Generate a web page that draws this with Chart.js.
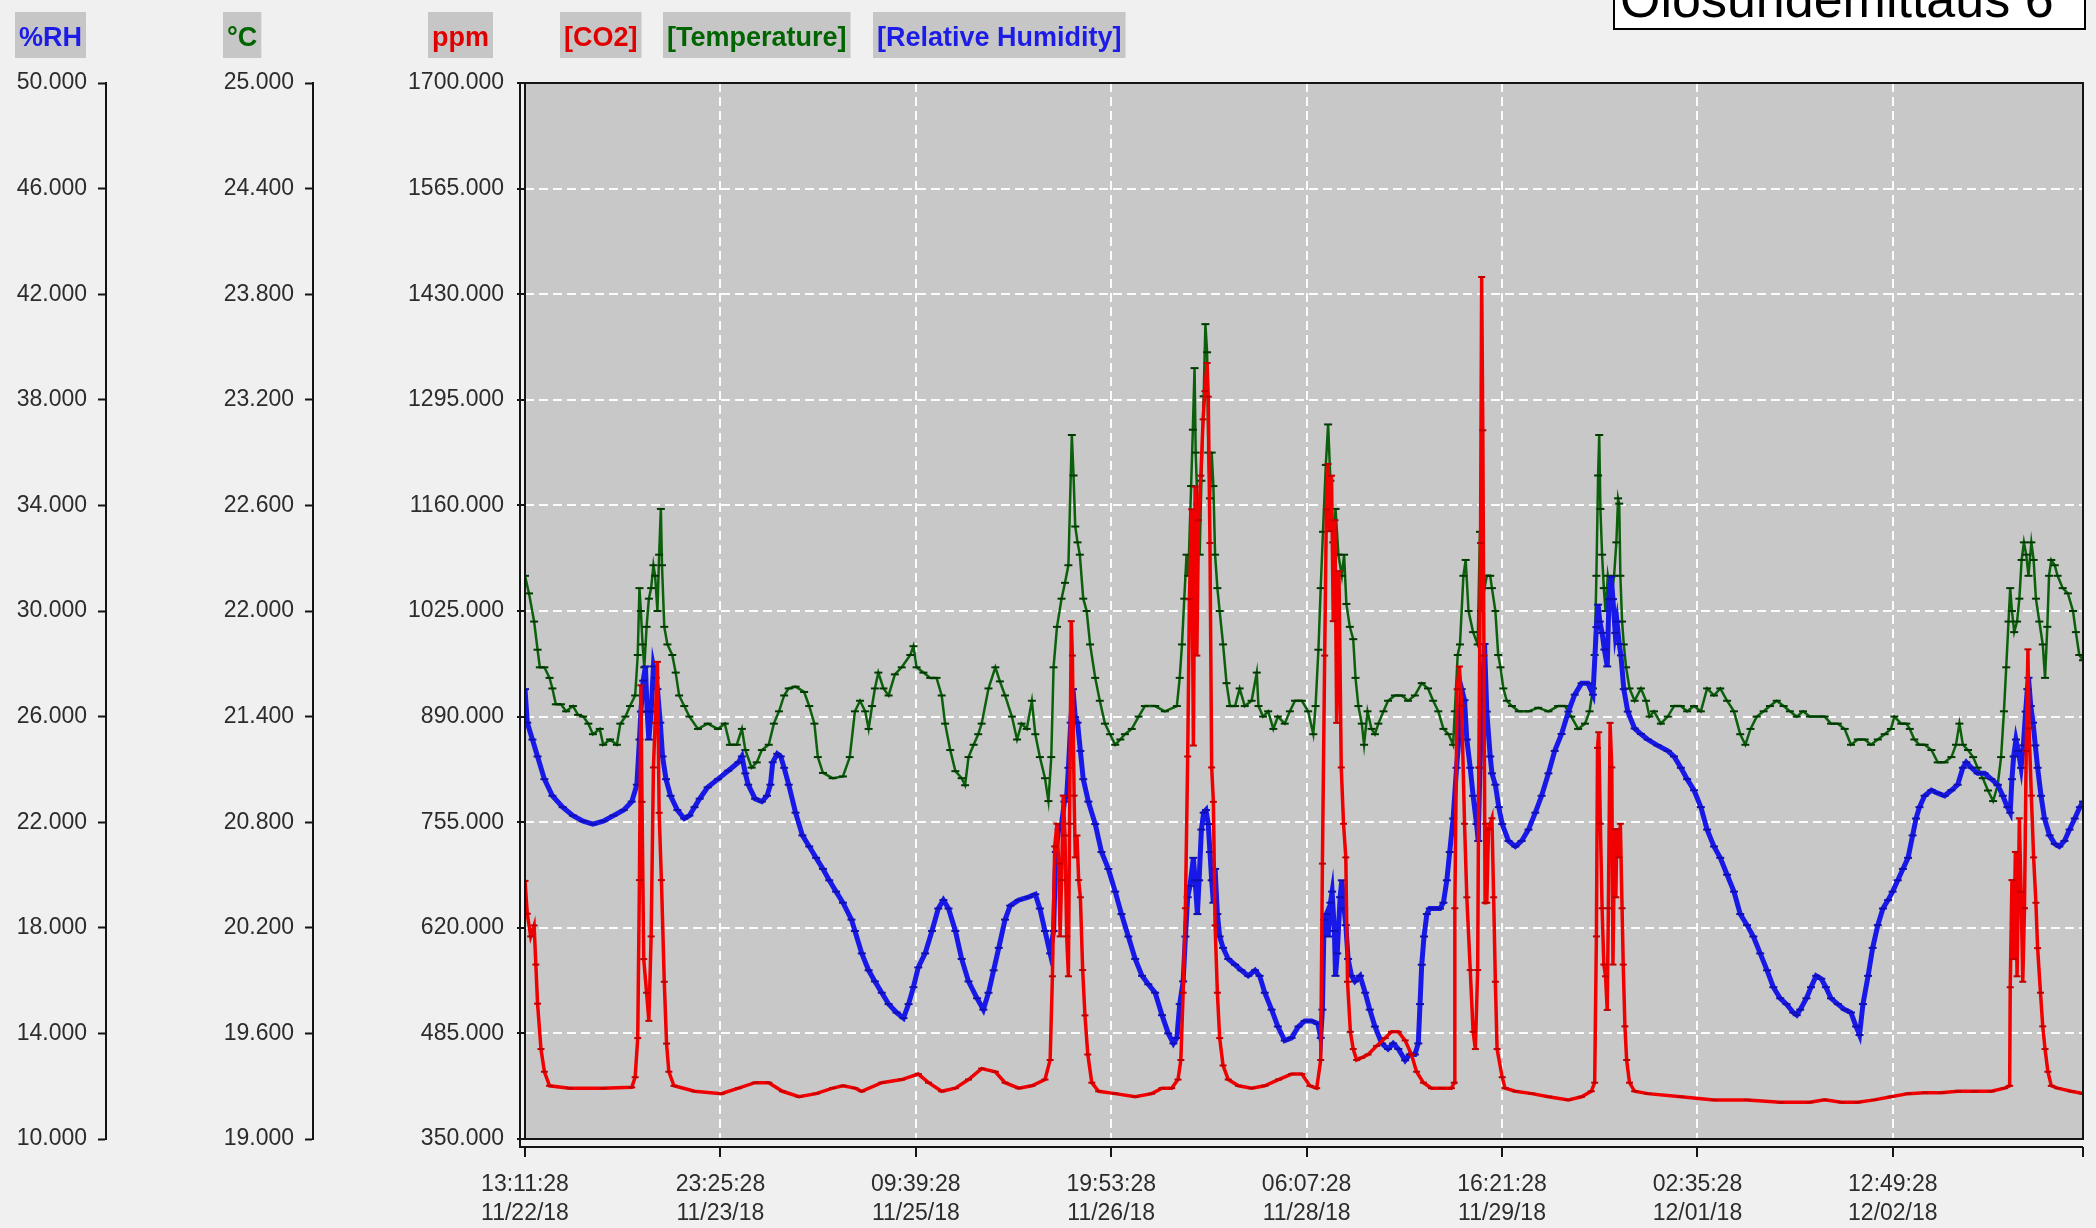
<!DOCTYPE html>
<html>
<head>
<meta charset="utf-8">
<title>Olosuhdemittaus 6</title>
<script src="https://cdn.jsdelivr.net/npm/chart.js@4.4.1/dist/chart.umd.min.js"></script>
<style>
    html, body { margin: 0; padding: 0; background: #f0f0f0; }
    #wrap { width: 2096px; height: 1228px; }
</style>
</head>
<body>
<div id="wrap"><canvas id="myChart" width="2096" height="1228"></canvas></div>
<script>
// x axis: hours since 11/22/18 13:11:28, one labelled tick every 34 h 14 min
const xTickTimes = ['13:11:28', '23:25:28', '09:39:28', '19:53:28', '06:07:28', '16:21:28', '02:35:28', '12:49:28'];
const xTickDates = ['11/22/18', '11/23/18', '11/25/18', '11/26/18', '11/28/18', '11/29/18', '12/01/18', '12/02/18'];
const tickStepHours = 34 + 14 / 60;
const spanHours = 272.95;

const rhTicks = [10, 14, 18, 22, 26, 30, 34, 38, 42, 46, 50];
const tempTicks = [19, 19.6, 20.2, 20.8, 21.4, 22, 22.6, 23.2, 23.8, 24.4, 25];
const ppmTicks = [350, 485, 620, 755, 890, 1025, 1160, 1295, 1430, 1565, 1700];

// [hours, ppm]
const co2Points = [
    [0.0, 680], [0.4, 638], [1.0, 609], [1.6, 623], [1.9, 573], [2.2, 523], [2.8, 465], [3.4, 436], [4.3, 418],
    [7.8, 415], [13.7, 415], [18.7, 416], [19.3, 429], [19.75, 479], [20.05, 681], [20.3, 930], [20.5, 781],
    [20.8, 580], [21.3, 537], [21.7, 501], [22.1, 609], [22.5, 825], [22.8, 882], [23.2, 960], [23.5, 767],
    [23.9, 681], [24.4, 551], [24.8, 472], [25.2, 436], [26.1, 418], [29.7, 411], [34.4, 408], [37.4, 415],
    [40.3, 422], [42.7, 422], [45.1, 411], [48.0, 404], [51.0, 408], [53.9, 415], [55.7, 418],
    [57.8, 415], [59.0, 411], [62.5, 422], [66.0, 426], [68.9, 433], [70.7, 422], [73.0, 411], [75.4, 415],
    [77.7, 426], [80.0, 440], [82.4, 436], [84.1, 422], [86.5, 415], [88.8, 418], [91.1, 426], [92.0, 451],
    [92.4, 558], [92.8, 724], [93.2, 753], [93.5, 702], [93.75, 609], [94.0, 681], [94.3, 789], [94.6, 738],
    [94.9, 609], [95.2, 558], [95.4, 753], [95.7, 1012], [95.9, 968], [96.2, 789], [96.4, 710], [96.7, 738],
    [97.0, 681], [97.3, 659], [97.7, 566], [98.1, 508], [98.6, 458], [99.3, 422], [100.5, 411], [103.4, 408],
    [106.9, 404], [109.8, 408], [111.6, 415],
    [113.3, 415], [114.4, 426], [114.9, 451], [115.3, 537], [115.7, 645], [116.1, 839], [116.4, 1040],
    [116.8, 1155], [117.1, 853], [117.4, 1184], [117.7, 968], [118.0, 1141], [118.4, 1198], [118.8, 1270],
    [119.1, 1306], [119.5, 1342], [119.7, 1299], [120.0, 1112], [120.3, 825], [120.6, 781], [120.9, 623],
    [121.3, 537], [121.7, 479], [122.3, 444], [123.2, 426], [125.0, 418], [127.3, 415], [129.6, 418],
    [132.0, 426], [134.3, 433], [136.1, 433], [137.5, 418], [138.7, 415], [139.4, 451], [139.7, 702],
    [140.1, 968], [140.4, 1155], [140.7, 1213], [141.0, 1127], [141.3, 1198], [141.6, 1012], [141.9, 1141],
    [142.2, 882], [142.6, 1076], [143.0, 825], [143.4, 753], [143.8, 710], [144.1, 551], [144.6, 487],
    [145.1, 465], [145.7, 451], [146.6, 454], [147.7, 458], [149.2, 469], [150.7, 479], [151.8, 487],
    [153.0, 487], [154.2, 476], [155.3, 458], [156.2, 436], [157.4, 422], [158.8, 415], [160.6, 415],
    [162.3, 415], [162.8, 422], [162.9, 645], [163.3, 925], [163.7, 954], [164.1, 904], [164.6, 753],
    [165.0, 659], [165.6, 566], [166.1, 487], [166.5, 465], [166.9, 566], [167.1, 825], [167.4, 1112],
    [167.6, 1452], [167.8, 1256], [168.0, 968], [168.2, 652], [168.3, 753], [168.5, 652], [168.8, 746],
    [169.4, 760], [169.7, 659], [170.0, 551], [170.3, 465], [171.2, 429], [171.7, 415], [173.5, 411],
    [176.4, 408], [179.3, 404], [182.8, 400], [185.1, 404], [186.8, 411], [187.4, 422], [187.7, 609],
    [187.9, 850], [188.1, 870], [188.4, 753], [188.7, 645], [189.0, 573], [189.3, 558], [189.6, 515],
    [189.8, 645], [190.1, 882], [190.4, 825], [190.6, 573], [190.9, 746], [191.1, 659], [191.3, 746],
    [191.6, 710], [191.9, 753], [192.2, 645], [192.4, 573], [192.7, 494], [193.0, 451], [193.5, 422],
    [194.4, 411], [196.7, 408], [202.5, 404], [208.3, 400], [214.1, 400], [219.9, 397], [225.1, 397],
    [227.7, 400], [230.6, 397], [233.5, 397], [236.4, 400], [239.3, 404], [242.3, 408], [245.2, 409],
    [248.1, 409], [251.0, 411], [253.9, 411], [256.9, 411], [259.2, 415], [260.1, 418], [260.2, 544],
    [260.5, 681], [260.8, 580], [261.1, 717], [261.4, 558], [261.8, 760], [262.1, 666], [262.4, 551],
    [262.7, 645], [263.0, 846], [263.3, 976], [263.5, 875], [263.9, 789], [264.3, 710], [264.7, 652],
    [265.0, 594], [265.5, 537], [265.9, 494], [266.3, 465], [266.8, 436], [267.4, 418], [268.5, 415],
    [270.9, 411], [272.95, 408]
];

// [hours, degrees C]
const tempPoints = [
    [0.0, 22.20], [0.7, 22.10], [1.6, 21.94], [2.2, 21.78], [2.6, 21.68], [3.4, 21.68], [4.3, 21.62],
    [4.8, 21.56], [5.4, 21.47], [6.3, 21.47], [7.2, 21.43], [8.4, 21.46], [9.3, 21.41], [10.2, 21.40],
    [11.1, 21.36], [11.9, 21.30], [13.1, 21.33], [13.7, 21.24], [14.9, 21.27], [16.1, 21.24], [16.7, 21.36],
    [17.6, 21.40], [18.4, 21.46], [19.3, 21.52], [19.75, 21.75], [20.05, 22.13], [20.3, 22.00], [20.6, 21.81],
    [20.9, 21.68], [21.3, 21.91], [21.7, 22.07], [22.1, 22.13], [22.5, 22.26], [22.8, 22.20], [23.2, 22.00],
    [23.5, 22.32], [23.8, 22.58], [24.0, 22.26], [24.4, 21.91], [24.95, 21.81], [25.8, 21.75], [26.4, 21.65],
    [27.0, 21.52], [27.9, 21.46], [28.8, 21.40], [30.3, 21.33], [32.0, 21.36], [33.8, 21.33], [35.0, 21.36],
    [35.9, 21.24], [37.1, 21.24], [38.0, 21.33], [38.6, 21.21], [39.7, 21.11], [40.6, 21.14], [41.5, 21.21],
    [42.7, 21.24], [43.6, 21.36], [44.5, 21.43], [45.4, 21.52], [46.2, 21.56], [47.4, 21.57], [48.9, 21.54],
    [49.8, 21.46], [50.7, 21.36], [51.3, 21.17], [52.2, 21.08], [53.9, 21.05], [55.7, 21.06], [56.9, 21.17],
    [57.8, 21.43], [58.7, 21.49], [59.6, 21.43], [60.2, 21.33], [60.8, 21.46], [61.3, 21.56], [61.9, 21.65],
    [62.8, 21.56], [63.7, 21.52], [64.8, 21.64], [66.0, 21.68], [67.5, 21.75], [68.05, 21.80], [68.6, 21.68],
    [69.8, 21.65], [71.0, 21.62], [72.1, 21.62], [73.0, 21.52], [73.6, 21.36], [74.5, 21.21], [75.4, 21.09],
    [76.5, 21.05], [77.1, 21.01], [77.7, 21.17], [78.6, 21.24], [79.4, 21.30], [80.0, 21.36], [81.2, 21.56],
    [82.4, 21.68], [83.2, 21.60], [84.1, 21.52], [85.3, 21.40], [86.2, 21.27], [87.0, 21.36], [87.9, 21.33],
    [88.8, 21.49], [89.4, 21.30], [90.2, 21.17], [91.1, 21.05], [91.7, 20.92], [92.2, 21.17], [92.6, 21.68],
    [93.2, 21.91], [94.0, 22.07], [94.6, 22.16], [95.2, 22.26], [95.8, 23.00], [96.1, 22.77], [96.4, 22.48],
    [96.8, 22.39], [97.2, 22.32], [97.8, 22.07], [98.4, 22.00], [99.0, 21.81], [99.9, 21.62], [100.7, 21.49],
    [101.6, 21.36], [102.5, 21.30], [103.4, 21.24], [104.3, 21.27], [105.1, 21.30], [106.3, 21.33],
    [107.5, 21.40], [108.6, 21.46], [110.4, 21.46], [112.1, 21.43], [114.2, 21.46], [114.7, 21.62],
    [115.1, 21.81], [115.5, 22.07], [115.9, 22.32], [116.2, 22.20], [116.7, 22.71], [117.0, 23.03],
    [117.3, 23.38], [117.5, 22.90], [117.8, 22.61], [118.2, 22.32], [118.5, 22.74], [118.9, 23.22],
    [119.2, 23.63], [119.5, 23.47], [119.7, 22.90], [120.0, 22.64], [120.3, 22.90], [120.6, 22.71],
    [120.9, 22.32], [121.3, 22.13], [121.7, 22.00], [122.3, 21.81], [122.9, 21.59], [123.5, 21.46],
    [124.4, 21.46], [125.2, 21.56], [126.1, 21.46], [127.3, 21.49], [128.2, 21.65], [128.5, 21.46],
    [129.3, 21.40], [130.2, 21.43], [131.1, 21.33], [131.9, 21.40], [133.1, 21.36], [134.0, 21.43],
    [134.9, 21.49], [136.1, 21.49], [137.2, 21.43], [138.1, 21.30], [138.5, 21.46], [139.0, 21.78],
    [139.4, 22.13], [139.8, 22.45], [140.3, 22.83], [140.7, 23.06], [141.1, 22.74], [141.6, 22.39],
    [142.0, 22.58], [142.5, 22.32], [143.1, 22.20], [143.5, 22.32], [143.9, 22.04], [144.5, 21.91],
    [145.1, 21.84], [145.5, 21.62], [146.0, 21.46], [146.6, 21.36], [147.0, 21.24], [147.6, 21.43],
    [148.3, 21.33], [148.9, 21.30], [149.5, 21.36], [150.4, 21.43], [151.2, 21.49], [152.4, 21.52],
    [153.6, 21.52], [154.7, 21.49], [155.9, 21.52], [157.1, 21.59], [158.2, 21.56], [159.1, 21.49],
    [160.0, 21.43], [160.9, 21.33], [161.8, 21.30], [162.6, 21.24], [162.9, 21.43], [163.4, 21.75],
    [163.8, 21.81], [164.4, 22.20], [164.8, 22.29], [165.3, 22.00], [166.1, 21.88], [166.9, 21.81],
    [167.3, 22.45], [167.5, 22.00], [168.1, 22.13], [168.5, 22.20], [169.1, 22.20], [169.4, 22.13],
    [170.0, 22.00], [170.5, 21.75], [170.9, 21.68], [171.4, 21.56], [172.0, 21.49], [172.9, 21.46],
    [174.1, 21.43], [175.8, 21.43], [177.5, 21.45], [179.3, 21.43], [181.0, 21.46], [182.2, 21.46],
    [183.3, 21.40], [184.5, 21.33], [185.7, 21.36], [186.5, 21.43], [187.1, 21.56], [187.4, 21.75],
    [187.7, 22.20], [188.0, 22.77], [188.2, 23.00], [188.4, 22.58], [188.7, 22.32], [189.0, 22.13],
    [189.3, 22.00], [189.7, 22.20], [190.3, 22.07], [190.8, 22.20], [191.2, 22.39], [191.5, 22.64],
    [191.7, 22.61], [191.9, 22.20], [192.2, 21.94], [192.5, 21.81], [192.9, 21.68], [193.5, 21.56],
    [194.4, 21.49], [195.5, 21.56], [196.4, 21.49], [197.0, 21.40], [197.8, 21.43], [199.0, 21.36],
    [200.2, 21.40], [201.3, 21.46], [202.5, 21.46], [203.6, 21.43], [204.8, 21.46], [206.0, 21.43],
    [207.1, 21.56], [208.3, 21.52], [209.4, 21.56], [210.6, 21.49], [211.8, 21.43], [212.9, 21.30],
    [213.8, 21.24], [214.7, 21.33], [215.8, 21.40], [217.0, 21.43], [218.1, 21.46], [219.3, 21.49],
    [220.5, 21.46], [221.6, 21.43], [222.8, 21.40], [223.9, 21.43], [225.1, 21.40], [226.5, 21.40],
    [227.7, 21.40], [228.8, 21.36], [230.0, 21.36], [231.2, 21.33], [232.3, 21.24], [233.5, 21.27],
    [234.7, 21.27], [235.8, 21.24], [237.0, 21.27], [238.2, 21.30], [239.3, 21.33], [239.9, 21.40],
    [241.1, 21.36], [242.0, 21.36], [242.6, 21.33], [243.4, 21.27], [244.3, 21.24], [245.2, 21.24],
    [246.4, 21.21], [247.5, 21.14], [248.7, 21.14], [249.9, 21.17], [250.7, 21.24], [251.3, 21.36],
    [251.9, 21.24], [252.8, 21.21], [253.7, 21.17], [254.5, 21.11], [255.4, 21.05], [256.3, 20.98],
    [257.2, 20.92], [258.0, 21.01], [258.6, 21.17], [259.1, 21.43], [259.5, 21.68], [259.9, 21.94],
    [260.2, 22.13], [260.5, 22.00], [260.9, 21.88], [261.4, 21.94], [261.8, 22.07], [262.2, 22.29],
    [262.6, 22.39], [263.0, 22.32], [263.4, 22.20], [263.9, 22.39], [264.3, 22.29], [264.7, 22.07],
    [265.3, 21.94], [265.9, 21.81], [266.3, 21.62], [266.7, 21.91], [267.0, 22.20], [267.4, 22.29],
    [268.0, 22.26], [268.5, 22.20], [269.4, 22.13], [270.3, 22.10], [271.2, 22.00], [271.7, 21.88],
    [272.3, 21.75], [272.95, 21.72]
];

// [hours, %RH]
const rhPoints = [
    [0.0, 27.04], [0.4, 25.77], [1.3, 25.13], [2.2, 24.49], [3.4, 23.63], [4.8, 23.00], [6.6, 22.57],
    [8.4, 22.25], [10.2, 22.04], [11.9, 21.93], [13.7, 22.04], [15.5, 22.25], [17.3, 22.46], [18.7, 22.78],
    [19.6, 23.42], [20.05, 25.13], [20.3, 26.19], [20.7, 27.36], [21.1, 27.90], [21.4, 26.19], [21.7, 25.13],
    [22.1, 26.19], [22.5, 27.90], [22.9, 27.47], [23.2, 27.04], [23.7, 25.77], [24.1, 24.49], [24.7, 23.63],
    [25.5, 23.00], [26.7, 22.46], [27.9, 22.14], [28.8, 22.25], [29.7, 22.57], [30.6, 22.89], [32.0, 23.32],
    [33.8, 23.63], [35.6, 23.95], [37.4, 24.27], [38.0, 24.49], [38.6, 23.85], [39.1, 23.42], [40.3, 22.89],
    [41.5, 22.78], [42.4, 23.00], [43.0, 23.42], [43.4, 24.27], [44.2, 24.59], [44.8, 24.49], [45.4, 24.06],
    [46.2, 23.42], [47.4, 22.36], [48.6, 21.50], [49.8, 21.08], [51.0, 20.65], [52.2, 20.23], [53.3, 19.80],
    [54.5, 19.37], [55.7, 18.95], [57.2, 18.31], [57.8, 17.88], [59.0, 17.03], [60.2, 16.39], [61.3, 15.97],
    [62.5, 15.54], [63.7, 15.11], [65.1, 14.79], [66.3, 14.58], [67.2, 15.11], [68.05, 15.75], [68.9, 16.50],
    [70.1, 17.03], [71.3, 17.88], [72.4, 18.73], [73.3, 19.05], [74.2, 18.73], [75.4, 17.88], [76.5, 16.82],
    [77.7, 15.97], [79.2, 15.33], [80.3, 14.90], [81.2, 15.54], [82.1, 16.39], [83.0, 17.24], [84.1, 18.31],
    [85.0, 18.84], [86.5, 19.05], [88.2, 19.16], [89.4, 19.27], [90.2, 18.73], [91.1, 17.88], [92.0, 17.03],
    [92.6, 17.88], [93.0, 20.87], [93.5, 21.72], [94.0, 21.93], [94.5, 22.78], [94.9, 23.00], [95.2, 24.06],
    [95.6, 25.77], [96.0, 27.04], [96.4, 25.98], [96.8, 25.77], [97.3, 24.70], [97.8, 23.63], [98.7, 22.78],
    [99.9, 21.93], [101.0, 20.87], [102.2, 20.23], [103.4, 19.37], [104.5, 18.52], [105.7, 17.67],
    [106.9, 16.82], [108.1, 16.18], [109.2, 15.86], [110.4, 15.54], [111.6, 14.69], [112.7, 14.00],
    [113.6, 13.62], [114.2, 13.83], [114.7, 15.11], [115.3, 15.97], [115.7, 17.67], [116.1, 19.16],
    [116.5, 19.59], [117.1, 20.65], [117.4, 19.80], [117.8, 18.52], [118.1, 19.80], [118.5, 21.72],
    [118.9, 22.36], [119.3, 22.46], [119.7, 21.93], [120.0, 20.87], [120.3, 19.80], [120.6, 18.95],
    [120.9, 20.23], [121.3, 18.52], [121.7, 17.67], [122.3, 17.24], [123.2, 16.82], [124.4, 16.60],
    [125.5, 16.39], [126.7, 16.18], [127.9, 16.39], [128.7, 16.18], [129.6, 15.54], [130.8, 14.90],
    [131.9, 14.26], [133.1, 13.73], [134.3, 13.83], [135.5, 14.26], [136.6, 14.47], [137.8, 14.47],
    [138.9, 14.37], [139.4, 13.83], [139.7, 14.90], [140.0, 18.31], [140.4, 18.52], [140.7, 17.67],
    [141.1, 18.95], [141.4, 19.37], [141.8, 17.88], [142.0, 16.18], [142.3, 17.03], [142.8, 19.16],
    [143.1, 19.80], [143.5, 18.73], [143.8, 18.10], [144.2, 16.82], [144.8, 16.18], [145.4, 15.97],
    [146.3, 16.18], [147.2, 15.54], [148.0, 14.90], [148.9, 14.26], [150.1, 13.62], [151.2, 13.41],
    [152.1, 13.62], [153.0, 13.41], [154.2, 12.98], [155.0, 13.20], [155.9, 13.20], [156.5, 13.62],
    [156.8, 15.11], [157.1, 16.60], [157.5, 17.67], [158.0, 18.52], [158.5, 18.73], [159.4, 18.73],
    [160.3, 18.73], [160.9, 18.95], [161.5, 19.80], [162.0, 20.87], [162.6, 22.14], [163.2, 24.06],
    [163.6, 25.13], [164.1, 27.04], [164.6, 26.62], [165.0, 25.13], [165.6, 24.06], [166.1, 23.00],
    [166.7, 21.93], [167.0, 21.29], [167.3, 24.06], [167.7, 26.62], [168.1, 28.75], [168.5, 26.19],
    [169.1, 24.49], [169.4, 23.85], [170.0, 23.42], [170.6, 22.57], [171.2, 21.93], [172.3, 21.29],
    [173.5, 21.08], [174.6, 21.29], [175.8, 21.72], [177.0, 22.36], [178.1, 23.00], [179.3, 23.85],
    [180.4, 24.70], [181.6, 25.34], [182.8, 26.19], [183.9, 26.83], [185.1, 27.26], [186.2, 27.26],
    [187.1, 26.83], [187.7, 29.39], [188.0, 30.24], [188.3, 29.60], [188.7, 29.17], [189.1, 28.54],
    [189.6, 27.90], [189.9, 30.45], [190.3, 31.30], [190.6, 30.45], [191.0, 29.17], [191.3, 29.60],
    [191.7, 28.75], [192.0, 28.32], [192.5, 27.04], [193.2, 26.19], [194.4, 25.55], [195.5, 25.34],
    [196.7, 25.13], [198.4, 24.91], [200.2, 24.70], [201.3, 24.49], [202.5, 24.06], [203.6, 23.63],
    [204.8, 23.21], [206.0, 22.57], [207.1, 21.72], [208.3, 21.08], [209.4, 20.65], [210.6, 20.01],
    [211.8, 19.37], [212.9, 18.52], [214.1, 18.10], [215.2, 17.67], [216.4, 17.03], [217.6, 16.39],
    [218.7, 15.75], [219.9, 15.33], [221.0, 15.11], [222.2, 14.79], [222.8, 14.69], [223.4, 14.90],
    [224.5, 15.33], [225.3, 15.75], [226.2, 16.18], [227.1, 16.07], [227.9, 15.75], [228.8, 15.33],
    [230.0, 15.11], [231.2, 14.90], [232.3, 14.79], [233.2, 14.26], [233.8, 13.94], [234.4, 15.11],
    [235.3, 16.18], [236.1, 17.24], [237.0, 18.10], [237.9, 18.73], [238.8, 19.05], [239.6, 19.37],
    [240.5, 19.80], [241.4, 20.23], [242.3, 20.65], [243.1, 21.50], [243.7, 22.14], [244.3, 22.57],
    [245.2, 23.00], [246.4, 23.21], [247.5, 23.10], [248.7, 23.00], [249.9, 23.21], [251.0, 23.42],
    [251.9, 24.06], [252.5, 24.27], [253.4, 24.06], [254.5, 23.85], [255.7, 23.85], [256.9, 23.63],
    [258.0, 23.42], [258.9, 23.00], [259.7, 22.57], [260.2, 22.36], [260.5, 23.63], [260.8, 24.49],
    [261.2, 25.13], [261.6, 24.70], [262.1, 24.06], [262.5, 24.91], [262.9, 26.19], [263.2, 27.04],
    [263.4, 27.47], [263.8, 26.40], [264.2, 25.77], [264.6, 24.91], [265.0, 24.06], [265.6, 23.00],
    [266.2, 22.14], [267.1, 21.50], [268.0, 21.18], [268.8, 21.08], [269.7, 21.29], [270.6, 21.72],
    [271.5, 22.14], [272.4, 22.57], [272.95, 22.78]
];

// pick the narrow face when it is installed, otherwise a smaller regular one
const probe = document.createElement('canvas').getContext('2d');
const hasFont = (name) => {
    probe.font = '28px monospace';
    const base = probe.measureText('1700.000 Wmm').width;
    probe.font = '28px "' + name + '", monospace';
    return probe.measureText('1700.000 Wmm').width !== base;
};
const narrow = hasFont('Liberation Sans Narrow');
const family = narrow ? '"Liberation Sans Narrow", "Liberation Sans", sans-serif' : '"Liberation Sans", Arial, sans-serif';
const tickSize = narrow ? 28 : 23;
const headSize = narrow ? 32 : 27;
const textColor = '#2c2c2c';
const lineColor = '#141414';

const toXY = (arr) => arr.map(([x, y]) => ({ x: x, y: y }));
const fixedTicks = (list) => (scale) => { scale.ticks = list.map(v => ({ value: v })); };

//background of page and plot area
const paperPlugin = {
    id: 'paper',
    beforeDraw(chart) {
        const { ctx, chartArea } = chart;
        ctx.save();
        ctx.fillStyle = '#f0f0f0';
        ctx.fillRect(0, 0, chart.width, chart.height);
        ctx.fillStyle = '#c8c8c8';
        ctx.fillRect(chartArea.left, chartArea.top, chartArea.right - chartArea.left, chartArea.bottom - chartArea.top);
        ctx.restore();
    }
};

//frame, unit headers, series names and the title box
const framePlugin = {
    id: 'frame',
    afterDraw(chart) {
        const { ctx, chartArea } = chart;
        const { left, right, top, bottom } = chartArea;
        ctx.save();
        ctx.strokeStyle = lineColor;
        ctx.lineWidth = 2;
        ctx.strokeRect(left, top, right - left, bottom - top);
        ctx.beginPath();
        ctx.moveTo(left - 5, top);
        ctx.lineTo(left - 5, bottom + 9);
        ctx.moveTo(left - 5, bottom + 8);
        ctx.lineTo(right, bottom + 8);
        ctx.stroke();

        const heads = [
            { text: '%RH', x: 19, color: '#1c1ce6' },
            { text: '\u00b0C', x: 227, color: '#006400' },
            { text: 'ppm', x: 432, color: '#e00000' },
            { text: '[CO2]', x: 564, color: '#e00000' },
            { text: '[Temperature]', x: 667, color: '#006400' },
            { text: '[Relative Humidity]', x: 877, color: '#1c1ce6' }
        ];
        ctx.font = 'bold ' + headSize + 'px ' + family;
        ctx.textBaseline = 'middle';
        ctx.textAlign = 'left';
        heads.forEach(h => {
            const w = ctx.measureText(h.text).width;
            ctx.fillStyle = '#c6c6c6';
            ctx.fillRect(h.x - 4, 12, w + 8, 46);
            ctx.fillStyle = h.color;
            ctx.fillText(h.text, h.x, 39);
        });

        ctx.fillStyle = '#ffffff';
        ctx.fillRect(1614, -6, 471, 35);
        ctx.strokeStyle = '#000000';
        ctx.lineWidth = 2;
        ctx.strokeRect(1614, -6, 471, 35);
        ctx.fillStyle = '#000000';
        ctx.font = '52px "Liberation Sans", Arial, sans-serif';
        ctx.textBaseline = 'alphabetic';
        ctx.fillText('Olosuhdemittaus 6', 1620, 17);
        ctx.restore();
    }
};

const tickFont = { family: family, size: tickSize, lineHeight: 1.07 };
const xTickFont = { family: family, size: tickSize, lineHeight: 1.26 };

const ctx = document.getElementById('myChart');
new Chart(ctx, {
    type: 'line',
    data: {
        datasets: [{
            label: 'CO2',
            data: toXY(co2Points),
            yAxisID: 'yPpm',
            borderColor: '#f00000',
            borderWidth: 3.5,
            pointStyle: 'line',
            pointRadius: 3.5,
            pointBorderColor: '#c00000',
            pointBorderWidth: 2
        }, {
            label: 'Relative Humidity',
            data: toXY(rhPoints),
            yAxisID: 'yRH',
            borderColor: '#1818e8',
            borderWidth: 5,
            pointStyle: 'line',
            pointRadius: 4,
            pointBorderColor: '#1010b0',
            pointBorderWidth: 2
        }, {
            label: 'Temperature',
            data: toXY(tempPoints),
            yAxisID: 'yTemp',
            borderColor: '#0c600c',
            borderWidth: 2.5,
            pointStyle: 'line',
            pointRadius: 4,
            pointBorderColor: '#003a00',
            pointBorderWidth: 2
        }]
    },
    options: {
        responsive: false,
        animation: false,
        devicePixelRatio: 1,
        layout: { padding: { top: 83, right: 13, bottom: 0, left: 0 } },
        elements: { line: { tension: 0 } },
        plugins: {
            legend: { display: false },
            tooltip: { enabled: false }
        },
        scales: {
            x: {
                type: 'linear',
                min: 0,
                max: spanHours,
                afterBuildTicks: (scale) => {
                    const ticks = xTickTimes.map((t, i) => ({ value: i * tickStepHours }));
                    ticks.push({ value: spanHours });
                    scale.ticks = ticks;
                },
                afterFit: (scale) => { scale.height = 89; },
                ticks: {
                    autoSkip: false,
                    maxRotation: 0,
                    padding: 13,
                    color: textColor,
                    font: xTickFont,
                    callback: (value, index) => index < xTickTimes.length ? [xTickTimes[index], xTickDates[index]] : ''
                },
                grid: {
                    color: 'rgba(255, 255, 255, 0.95)',
                    lineWidth: 2,
                    tickLength: 18,
                    tickWidth: 2,
                    tickColor: lineColor,
                    tickBorderDash: [0, 8, 10, 60]
                },
                border: { display: false, dash: [9, 5] }
            },
            yPpm: {
                position: 'left',
                weight: 1,
                min: 350,
                max: 1700,
                afterBuildTicks: fixedTicks(ppmTicks),
                afterFit: (scale) => { scale.width = 212; },
                ticks: {
                    padding: 8,
                    color: textColor,
                    font: tickFont,
                    callback: (value) => Number(value).toFixed(3)
                },
                grid: {
                    color: 'rgba(255, 255, 255, 0.95)',
                    lineWidth: 2,
                    tickLength: 13,
                    tickWidth: 2,
                    tickColor: lineColor,
                    tickBorderDash: [0, 5, 8, 60]
                },
                border: { display: false, dash: [9, 5] }
            },
            yTemp: {
                position: 'left',
                weight: 2,
                min: 19,
                max: 25,
                afterBuildTicks: fixedTicks(tempTicks),
                afterFit: (scale) => { scale.width = 207; },
                ticks: {
                    padding: 11,
                    color: textColor,
                    font: tickFont,
                    callback: (value) => Number(value).toFixed(3)
                },
                grid: { drawOnChartArea: false, tickLength: 8, tickWidth: 2, tickColor: lineColor },
                border: { display: true, color: lineColor, width: 2 }
            },
            yRH: {
                position: 'left',
                weight: 3,
                min: 10,
                max: 50,
                afterBuildTicks: fixedTicks(rhTicks),
                afterFit: (scale) => { scale.width = 106; },
                ticks: {
                    padding: 11,
                    color: textColor,
                    font: tickFont,
                    callback: (value) => Number(value).toFixed(3)
                },
                grid: { drawOnChartArea: false, tickLength: 8, tickWidth: 2, tickColor: lineColor },
                border: { display: true, color: lineColor, width: 2 }
            }
        }
    },
    plugins: [paperPlugin, framePlugin]
});
</script>
</body>
</html>
